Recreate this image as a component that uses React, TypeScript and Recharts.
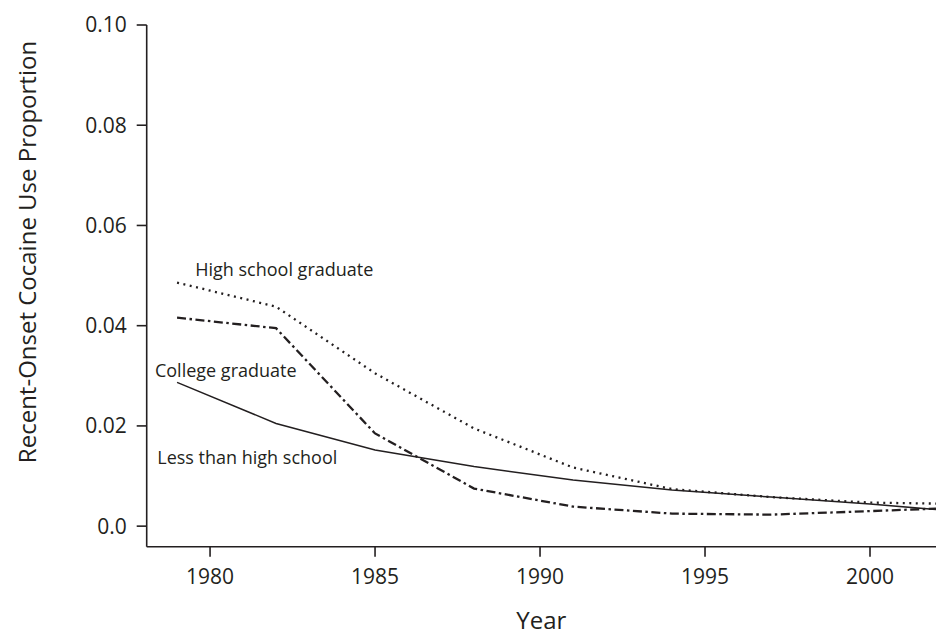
import React from 'react';
import { LineChart, Line, XAxis, YAxis, ReferenceDot, Label } from 'recharts';

const years = [1979, 1982, 1985, 1988, 1991, 1994, 1997, 2000, 2002];
// dotted line
const hsGraduate = [0.0486, 0.0438, 0.0305, 0.0195, 0.0117, 0.0074, 0.0058, 0.0047, 0.0045];
// dash-dot line
const steepDrop = [0.0416, 0.0395, 0.0185, 0.0075, 0.0039, 0.0025, 0.0023, 0.003, 0.0035];
// solid line
const gradual = [0.0287, 0.0205, 0.0152, 0.0119, 0.0092, 0.0072, 0.0058, 0.0044, 0.0033];

const xTicks = [1980, 1985, 1990, 1995, 2000];
const yTicks = [0, 0.02, 0.04, 0.06, 0.08, 0.1];

const annotations = [
  { text: 'High school graduate', year: 1979.55, value: 0.0513 },
  { text: 'College graduate', year: 1978.33, value: 0.0311 },
  { text: 'Less than high school', year: 1978.4, value: 0.0138 },
];

const ink = '#231f20';
const font = '"Open Sans", sans-serif';

const data = years.map((year, i) => ({
  year,
  hs: hsGraduate[i],
  steep: steepDrop[i],
  gradual: gradual[i],
}));

if (typeof document !== 'undefined') document.body.style.margin = '0';

const fmtY = (v: number) => (v === 0 ? '0.0' : v.toFixed(2));

export default function App() {
  return (
    <div style={{ width: 936, height: 637, background: '#fff' }}>
      <LineChart width={936} height={637} data={data} margin={{ top: 25, right: 0, bottom: 0, left: 0 }}>
        <XAxis
          dataKey="year"
          type="number"
          domain={[1978.08, 2002]}
          allowDataOverflow
          ticks={xTicks}
          tickSize={10}
          tickMargin={12}
          axisLine={{ stroke: ink, strokeWidth: 1.6 }}
          tickLine={{ stroke: ink, strokeWidth: 1.6 }}
          tick={{ fill: ink, fontSize: 21, fontFamily: font }}
          height={90.3}
        >
          <Label
            content={({ viewBox }: any) => (
              <text
                x={viewBox.x + viewBox.width / 2}
                y={629}
                textAnchor="middle"
                fill={ink}
                fontSize={24}
                fontFamily={font}
              >
                Year
              </text>
            )}
          />
        </XAxis>
        <YAxis
          type="number"
          domain={[-0.0041, 0.1]}
          allowDataOverflow
          ticks={yTicks}
          tickFormatter={fmtY}
          tickSize={10}
          tickMargin={10}
          width={146.7}
          axisLine={{ stroke: ink, strokeWidth: 1.6 }}
          tickLine={{ stroke: ink, strokeWidth: 1.6 }}
          tick={{ fill: ink, fontSize: 21, fontFamily: font }}
        >
          <Label
            content={() => (
              <text
                x={26}
                y={252}
                transform="rotate(-90 26 252)"
                textAnchor="middle"
                dominantBaseline="central"
                fill={ink}
                fontSize={24}
                fontFamily={font}
              >
                Recent-Onset Cocaine Use Proportion
              </text>
            )}
          />
        </YAxis>
        <Line
          dataKey="gradual"
          type="linear"
          stroke={ink}
          strokeWidth={1.5}
          dot={false}
          isAnimationActive={false}
        />
        <Line
          dataKey="hs"
          type="linear"
          stroke={ink}
          strokeWidth={2.3}
          strokeDasharray="2 4.5"
          dot={false}
          isAnimationActive={false}
        />
        <Line
          dataKey="steep"
          type="linear"
          stroke={ink}
          strokeWidth={2.3}
          strokeDasharray="9 3.5 2.5 3.5"
          dot={false}
          isAnimationActive={false}
        />
        {annotations.map((a) => (
          <ReferenceDot
            key={a.text}
            x={a.year}
            y={a.value}
            r={0}
            stroke="none"
            fill="none"
            label={{
              content: ({ viewBox }: any) => (
                <text
                  x={viewBox.x}
                  y={viewBox.y}
                  textAnchor="start"
                  dominantBaseline="central"
                  fill={ink}
                  fontSize={18}
                  fontFamily={font}
                >
                  {a.text}
                </text>
              ),
            }}
          />
        ))}
      </LineChart>
    </div>
  );
}
